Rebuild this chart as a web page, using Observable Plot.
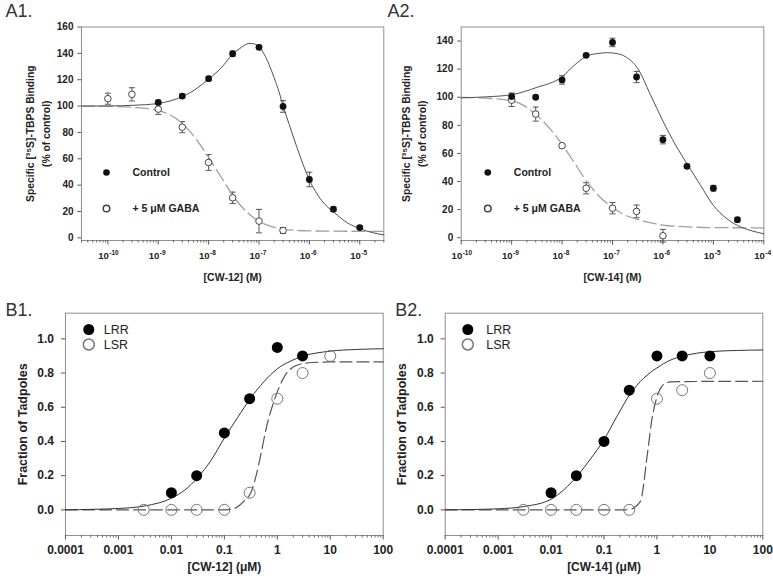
<!DOCTYPE html>
<html><head><meta charset="utf-8">
<script src="https://cdn.jsdelivr.net/npm/d3@7"></script>
<script src="https://cdn.jsdelivr.net/npm/@observablehq/plot@0.6"></script>
<style>
body{margin:0;background:#fff;}
#root{position:relative;width:773px;height:584px;overflow:hidden;background:#fff;}
</style></head><body><div id="root"></div>
<script>
// ---------- Panel A1 : [CW-12] binding ----------
const a1ControlConc = [1e-9, 3e-9, 1e-8, 3e-8, 1e-7, 3e-7, 1e-6, 3e-6, 1e-5];
const a1Control     = [102.8, 107.6, 120.8, 139.7, 144.6, 99.7, 44.3, 21.8, 7.8];
const a1ControlErr  = [1.5, 1.5, 1.5, 2, 1.5, 4.4, 5.5, 1.5, 1.5];
const a1GabaConc = [1e-10, 3e-10, 1e-9, 3e-9, 1e-8, 3e-8, 1e-7, 3e-7];
const a1Gaba     = [105.6, 108.9, 97.7, 84, 57.2, 30.4, 12.7, 5.6];
const a1GabaErr  = [4.2, 5, 4, 4.2, 6, 4.3, 8.9, 2.2];
// fitted curves (log10 concentration, value)
const a1ControlFitLog = [-10.52,-10,-9.5,-9,-8.75,-8.5,-8.25,-8,-7.75,-7.52,-7.35,-7.2,-7.1,-7,-6.9,-6.8,-6.7,-6.6,-6.52,-6.4,-6.25,-6,-5.75,-5.5,-5.25,-5,-4.75,-4.52];
const a1ControlFit    = [100,100.1,100.6,102,104,107.5,113,120.5,129,139.5,144.5,147.5,147.2,144.8,139.5,131.5,121.5,110.5,100,86,69,44,28,19,11.5,7,4,2.3];
const a1GabaFitLog = [-10.52,-10,-9.5,-9,-8.75,-8.5,-8.25,-8,-7.75,-7.5,-7.25,-7,-6.75,-6.5,-6,-5.5,-5,-4.52];
const a1GabaFit    = [100,99.8,99,96.5,93,86,75,61,46,31,20,12.5,8.5,6.5,5.3,5.1,5,5];
const a1YTicks = [0, 20, 40, 60, 80, 100, 120, 140, 160];
const a1XTickExp = [-10, -9, -8, -7, -6, -5];

// ---------- Panel A2 : [CW-14] binding ----------
const a2ControlConc = [1e-9, 3e-9, 1e-8, 3e-8, 1e-7, 3e-7, 1e-6, 3e-6, 1e-5, 3e-5];
const a2Control     = [100.5, 100, 112.3, 129.8, 139, 114.4, 69.8, 50.8, 35.2, 12.8];
const a2ControlErr  = [2.5, 1, 3, 1, 3, 4, 3, 1.5, 2, 1.5];
const a2GabaConc = [1e-9, 3e-9, 1e-8, 3e-8, 1e-7, 3e-7, 1e-6];
const a2Gaba     = [97.9, 88, 65.5, 35.2, 21, 18.7, 1.4];
const a2GabaErr  = [4.5, 5, 1.5, 4, 4, 4.5, 4.5];
const a2ControlFitLog = [-10,-9.5,-9,-8.5,-8,-7.75,-7.5,-7.25,-7.1,-6.9,-6.75,-6.5,-6.25,-6,-5.75,-5.52,-5.25,-5,-4.75,-4.52,-4.25,-4];
const a2ControlFit    = [99.5,100.3,101.8,107,114.5,123,129.5,131.3,131.7,131,129,120.5,102,83,66,52.5,37,23,14,8.7,5,2.8];
const a2GabaFitLog = [-10,-9.5,-9,-8.75,-8.5,-8.25,-8,-7.75,-7.5,-7.25,-7,-6.75,-6.5,-6,-5.5,-5,-4];
const a2GabaFit    = [100,99.3,97.5,94,87,78,66.5,53,39.5,29,21.5,16,13,9,7.7,7.2,7];
const a2YTicks = [0, 20, 40, 60, 80, 100, 120, 140];
const a2XTickExp = [-10, -9, -8, -7, -6, -5, -4];

// ---------- Panel B1 : [CW-12] tadpoles ----------
const b1LrrConc = [0.01, 0.03, 0.1, 0.3, 1, 3];
const b1Lrr     = [0.1, 0.2, 0.45, 0.65, 0.95, 0.9];
const b1LsrConc = [0.003, 0.01, 0.03, 0.1, 0.3, 1, 3, 10];
const b1Lsr     = [0, 0, 0, 0, 0.1, 0.65, 0.8, 0.9];
const b1LrrFitLog = [-4,-3.5,-3,-2.5,-2,-1.75,-1.5,-1.25,-1,-0.75,-0.5,-0.25,0,0.25,0.5,1,1.5,2];
const b1LrrFit    = [0,0.003,0.008,0.023,0.068,0.115,0.19,0.29,0.42,0.54,0.655,0.75,0.825,0.87,0.9,0.928,0.938,0.942];
const b1LsrFitLog = [-4,-1,-0.85,-0.7,-0.6,-0.5,-0.4,-0.3,-0.2,-0.1,0,0.1,0.2,0.3,0.45,0.7,1,2];
const b1LsrFit    = [0,0,0.004,0.03,0.06,0.1,0.2,0.34,0.49,0.6,0.69,0.76,0.81,0.835,0.853,0.862,0.865,0.865];

// ---------- Panel B2 : [CW-14] tadpoles ----------
const b2LrrConc = [0.01, 0.03, 0.1, 0.3, 1, 3, 10];
const b2Lrr     = [0.1, 0.2, 0.4, 0.7, 0.9, 0.9, 0.9];
const b2LsrConc = [0.003, 0.01, 0.03, 0.1, 0.3, 1, 3, 10];
const b2Lsr     = [0, 0, 0, 0, 0, 0.65, 0.7, 0.8];
const b2LrrFitLog = [-4,-3.5,-3,-2.5,-2,-1.75,-1.5,-1.25,-1,-0.75,-0.5,-0.25,0,0.25,0.5,1,1.5,2];
const b2LrrFit    = [0,0.002,0.006,0.02,0.062,0.12,0.2,0.3,0.41,0.55,0.68,0.77,0.83,0.875,0.9,0.925,0.932,0.935];
const b2LsrFitLog = [-4,-0.6,-0.5,-0.4,-0.35,-0.3,-0.25,-0.2,-0.15,-0.1,-0.05,0,0.05,0.1,0.16,0.25,0.5,2];
const b2LsrFit    = [0,0,0.003,0.02,0.035,0.06,0.15,0.28,0.4,0.52,0.6,0.66,0.7,0.725,0.74,0.748,0.75,0.752];

const bYTicks = [0, 0.2, 0.4, 0.6, 0.8, 1.0];
const bXTicks = [0.0001, 0.001, 0.01, 0.1, 1, 10, 100];
const bXLabels = ["0.0001", "0.001", "0.01", "0.1", "1", "10", "100"];

// ---------- helpers ----------
const FONT = "'Liberation Sans', Arial, Helvetica, sans-serif";
const rows = (xs, ys, es) => xs.map((x, i) => ({x, y: ys[i], e: es ? es[i] : 0}));
const fitRows = (ls, ys) => ls.map((l, i) => ({x: Math.pow(10, l), y: ys[i]}));
function minorTicks(lo, hi) {
  const out = [];
  for (let e = -12; e <= 3; e++) for (let k = 2; k <= 9; k++) {
    const v = k * Math.pow(10, e);
    if (v >= lo * 0.999 && v <= hi * 1.001) out.push(v);
  }
  return out;
}
const bXLabelOf = d => {
  let best = 0;
  bXTicks.forEach((t, i) => { if (Math.abs(Math.log10(t) - Math.log10(d)) < Math.abs(Math.log10(bXTicks[best]) - Math.log10(d))) best = i; });
  return bXLabels[best];
};
const capSymbol = {draw(ctx, size) { const w = Math.sqrt(size / Math.PI); ctx.moveTo(-w, 0); ctx.lineTo(w, 0); }};
const root = document.getElementById("root");
function place(svg, left, top) {
  svg.style.position = "absolute";
  svg.style.left = left + "px";
  svg.style.top = top + "px";
  root.append(svg);
}
const baseStyle = {fontFamily: FONT, fontSize: "10px", fontWeight: "bold", color: "#222", overflow: "visible", background: "transparent"};

function errMarks(data, col) {
  return [
    Plot.ruleX(data, {x: "x", y1: d => d.y - d.e, y2: d => d.y + d.e, stroke: col, strokeWidth: 1}),
    Plot.dot(data, {x: "x", y: d => d.y + d.e, symbol: capSymbol, r: 3, stroke: col, fill: "none", strokeWidth: 1}),
    Plot.dot(data, {x: "x", y: d => d.y - d.e, symbol: capSymbol, r: 3, stroke: col, fill: "none", strokeWidth: 1})
  ];
}

function panelA(o) {
  const ctrl = rows(o.cConc, o.c, o.cErr);
  const gaba = rows(o.gConc, o.g, o.gErr);
  return Plot.plot({
    width: o.width, height: 290,
    marginLeft: o.ml, marginRight: o.mr, marginTop: 26.5, marginBottom: 50,
    x: {type: "log", domain: o.xDomain},
    y: {domain: o.yDomain},
    style: baseStyle,
    marks: [
      Plot.frame({stroke: "#8f8f8f"}),
      Plot.axisY({ticks: o.yTicks, tickSize: 3.5, tickPadding: 4.5, stroke: "#555", fontSize: 10, label: null}),
      Plot.axisX({ticks: minorTicks(o.xDomain[0], o.xDomain[1]), tickSize: 2.5, tickFormat: () => "", stroke: "#666", label: null}),
      Plot.axisX({ticks: o.xExp.map(e => Math.pow(10, e)), tickSize: 4.5, tickFormat: () => "", stroke: "#555", label: null}),
      Plot.text(o.xExp, {x: e => Math.pow(10, e), frameAnchor: "bottom", dy: 15.5, dx: 1, text: () => "10", textAnchor: "end", lineAnchor: "middle", fontSize: 9.5, fill: "#222"}),
      Plot.text(o.xExp, {x: e => Math.pow(10, e), frameAnchor: "bottom", dy: 12, dx: 1.5, text: e => String(e), textAnchor: "start", lineAnchor: "middle", fontSize: 6.5, fill: "#222"}),
      ...errMarks(gaba, "#555"),
      ...errMarks(ctrl, "#555"),
      Plot.line(fitRows(o.gFitLog, o.gFit), {x: "x", y: "y", curve: "monotone-x", stroke: "#a0a0a0", strokeWidth: 1.3, strokeDasharray: "13,5"}),
      Plot.line(fitRows(o.cFitLog, o.cFit), {x: "x", y: "y", curve: "monotone-x", stroke: "#505050", strokeWidth: 1}),
      Plot.dot(gaba, {x: "x", y: "y", r: 3.3, fill: "white", stroke: "#444", strokeWidth: 1}),
      Plot.dot(ctrl, {x: "x", y: "y", r: 3.4, fill: "#111"}),
      // legend
      Plot.dot([0], {frameAnchor: "top-left", dx: o.legDx, dy: 145.5, r: 3.3, fill: "#111"}),
      Plot.dot([0], {frameAnchor: "top-left", dx: o.legDx, dy: 181.5, r: 3.3, fill: "white", stroke: "#444"}),
      Plot.text(["Control"], {frameAnchor: "top-left", dx: o.legDx + 26, dy: 145.5, textAnchor: "start", lineAnchor: "middle", fontSize: 10.5, fill: "#222"}),
      Plot.text(["+ 5 \u03BCM GABA"], {frameAnchor: "top-left", dx: o.legDx + 26, dy: 181.5, textAnchor: "start", lineAnchor: "middle", fontSize: 10.5, fill: "#222"}),
      // titles
      Plot.text(["Specific [\u00B3\u2075S]-TBPS Binding\n(% of control)"], {frameAnchor: "left", dx: o.yTitleDx, rotate: -90, lineHeight: 1.55, fontSize: 10.3, textAnchor: "middle", lineAnchor: "middle", fill: "#222"}),
      Plot.text([o.xTitle], {frameAnchor: "bottom", dy: 37, fontSize: 10.5, lineAnchor: "middle", fill: "#222"}),
      Plot.text([o.panel], {frameAnchor: "top-left", dx: o.panelDx, dy: -10.5, fontSize: 18, fontWeight: "normal", textAnchor: "start", lineAnchor: "bottom", fill: "#333"})
    ]
  });
}

function panelB(o) {
  const lrr = rows(o.rConc, o.r);
  const lsr = rows(o.sConc, o.s);
  return Plot.plot({
    width: o.width, height: 294,
    marginLeft: o.ml, marginRight: o.mr, marginTop: 22.7, marginBottom: 49,
    x: {type: "log", domain: [1e-4, 100]},
    y: {domain: [-0.15, 1.15]},
    style: baseStyle,
    marks: [
      Plot.frame({stroke: "#8f8f8f"}),
      Plot.axisY({ticks: bYTicks, tickSize: 4, tickPadding: 7.5, tickFormat: d3.format(".1f"), stroke: "#555", fontSize: 12, label: null}),
      Plot.axisX({ticks: minorTicks(1e-4, 100), tickSize: 2.5, tickFormat: () => "", stroke: "#666", label: null}),
      Plot.axisX({ticks: bXTicks, tickSize: 4.5, tickFormat: () => "", stroke: "#555", label: null}),
      Plot.text(bXTicks, {x: d => d, frameAnchor: "bottom", dy: 15, text: bXLabelOf, textAnchor: "middle", lineAnchor: "middle", fontSize: 12, fill: "#222"}),
      Plot.line(fitRows(o.sFitLog, o.sFit), {x: "x", y: "y", curve: "monotone-x", stroke: "#555", strokeWidth: 1.2, strokeDasharray: "12,5"}),
      Plot.line(fitRows(o.rFitLog, o.rFit), {x: "x", y: "y", curve: "monotone-x", stroke: "#333", strokeWidth: 1}),
      Plot.dot(lsr, {x: "x", y: "y", r: 5.5, fill: "none", stroke: "#777", strokeWidth: 1}),
      Plot.dot(lrr, {x: "x", y: "y", r: 5.5, fill: "#000"}),
      // legend
      Plot.dot([0], {frameAnchor: "top-left", dx: o.legDx, dy: 16.3, r: 5.5, fill: "#000"}),
      Plot.dot([0], {frameAnchor: "top-left", dx: o.legDx, dy: 31.3, r: 5.5, fill: "none", stroke: "#777"}),
      Plot.text(["LRR"], {frameAnchor: "top-left", dx: o.legTx, dy: 16.3, textAnchor: "start", lineAnchor: "middle", fontSize: 12.5, fontWeight: "normal", fill: "#222"}),
      Plot.text(["LSR"], {frameAnchor: "top-left", dx: o.legTx, dy: 31.3, textAnchor: "start", lineAnchor: "middle", fontSize: 12.5, fontWeight: "normal", fill: "#222"}),
      // titles
      Plot.text(["Fraction of Tadpoles"], {frameAnchor: "left", dx: -43, rotate: -90, fontSize: 12.5, textAnchor: "middle", lineAnchor: "middle", fill: "#222"}),
      Plot.text([o.xTitle], {frameAnchor: "bottom", dy: 32, fontSize: 12, lineAnchor: "middle", fill: "#222"}),
      Plot.text([o.panel], {frameAnchor: "top-left", dx: o.panelDx, dy: 2.3, fontSize: 18, fontWeight: "normal", textAnchor: "start", lineAnchor: "bottom", fill: "#333"})
    ]
  });
}

place(panelA({
  width: 386, ml: 81, mr: 2.7, xDomain: [3e-11, 3e-5], yDomain: [-2, 160], yTicks: a1YTicks, xExp: a1XTickExp,
  cConc: a1ControlConc, c: a1Control, cErr: a1ControlErr, gConc: a1GabaConc, g: a1Gaba, gErr: a1GabaErr,
  cFitLog: a1ControlFitLog, cFit: a1ControlFit, gFitLog: a1GabaFitLog, gFit: a1GabaFit,
  legDx: 25, yTitleDx: -45, xTitle: "[CW-12] (M)", panel: "A1.", panelDx: -76
}), 0, 0);

place(panelA({
  width: 387, ml: 74.7, mr: 9.7, xDomain: [1e-10, 1e-4], yDomain: [-2, 150], yTicks: a2YTicks, xExp: a2XTickExp,
  cConc: a2ControlConc, c: a2Control, cErr: a2ControlErr, gConc: a2GabaConc, g: a2Gaba, gErr: a2GabaErr,
  cFitLog: a2ControlFitLog, cFit: a2ControlFit, gFitLog: a2GabaFitLog, gFit: a2GabaFit,
  legDx: 26.6, yTitleDx: -48, xTitle: "[CW-14] (M)", panel: "A2.", panelDx: -73.7
}), 386, 0);

place(panelB({
  width: 386, ml: 65, mr: 3.3,
  rConc: b1LrrConc, r: b1Lrr, sConc: b1LsrConc, s: b1Lsr,
  rFitLog: b1LrrFitLog, rFit: b1LrrFit, sFitLog: b1LsrFitLog, sFit: b1LsrFit,
  legDx: 23.3, legTx: 38.3, xTitle: "[CW-12] (\u03BCM)", panel: "B1.", panelDx: -60
}), 0, 290);

place(panelB({
  width: 387, ml: 58.7, mr: 10.7,
  rConc: b2LrrConc, r: b2Lrr, sConc: b2LsrConc, s: b2Lsr,
  rFitLog: b2LrrFitLog, rFit: b2LrrFit, sFitLog: b2LsrFitLog, sFit: b2LsrFit,
  legDx: 22.6, legTx: 41, xTitle: "[CW-14] (\u03BCM)", panel: "B2.", panelDx: -50
}), 386, 290);
</script>
</body></html>
